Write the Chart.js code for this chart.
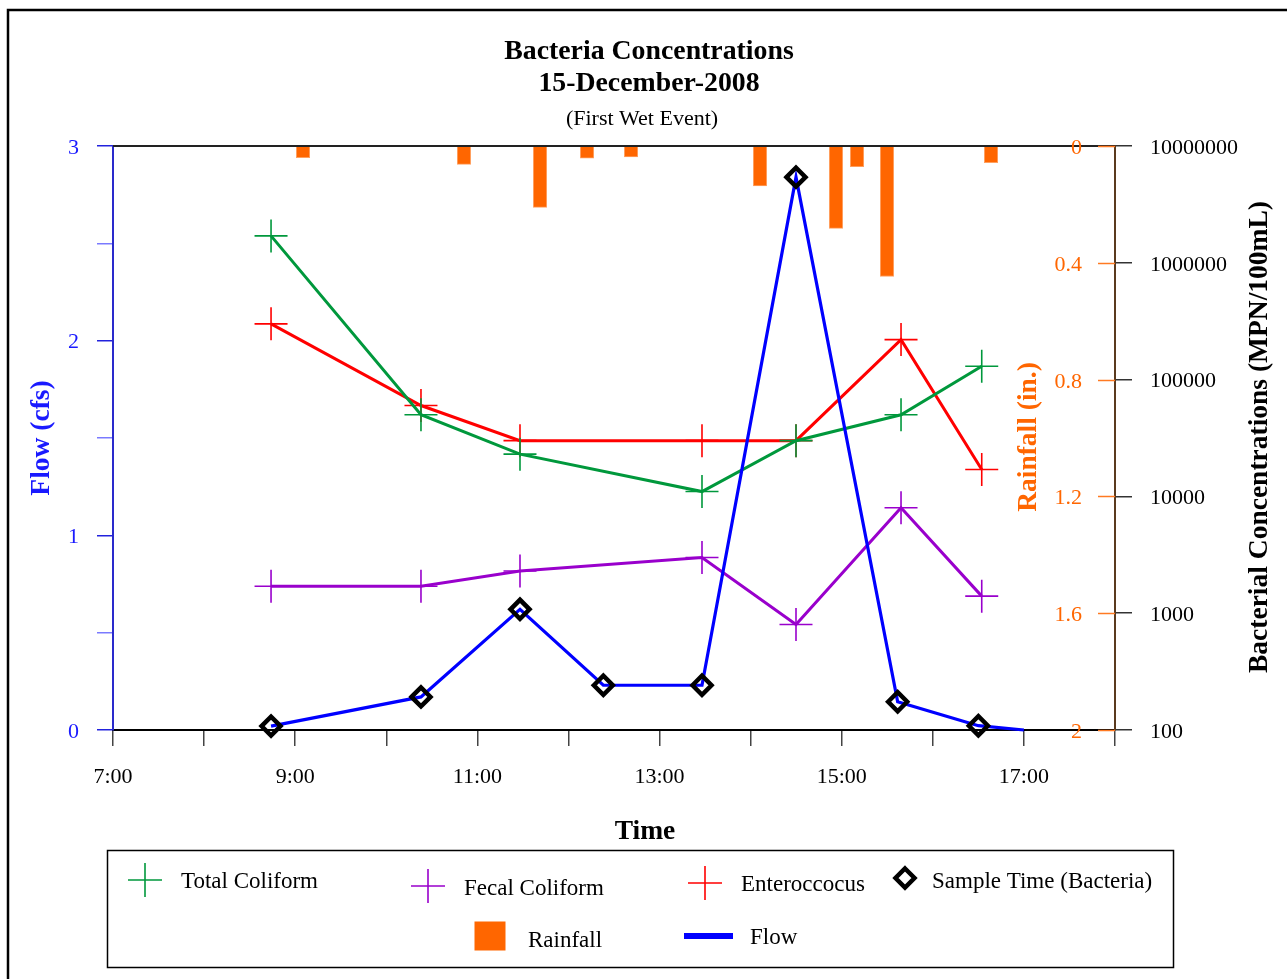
<!DOCTYPE html>
<html>
<head>
<meta charset="utf-8">
<script src="https://cdn.jsdelivr.net/npm/chart.js@4.4.1/dist/chart.umd.min.js"></script>
<style>
html,body{margin:0;padding:0;background:#ffffff;}
canvas{display:block;}
</style>
</head>
<body>
<canvas id="c" width="1287" height="979"></canvas>
<script>
// ---------------- data ----------------
// time in decimal hours
const bacteriaTimes = [8.735, 10.381, 11.468, 13.466, 14.498, 15.651, 16.537];
const totalColiform = [1700000, 50000, 23000, 11000, 30000, 50000, 130000];
const fecalColiform = [1700, 1700, 2300, 3000, 800, 8000, 1400];
const enteroccocus  = [300000, 60000, 30000, 30000, 30000, 220000, 17000];

const flowTimes  = [8.735, 10.381, 11.468, 12.383, 13.466, 14.498, 15.614, 16.50, 17.0];
const flowValues = [0.02, 0.17, 0.62, 0.23, 0.23, 2.84, 0.145, 0.022, 0.0];

const sampleTimes = [8.735, 10.381, 11.468, 12.383, 13.466, 14.498, 15.614, 16.50];
const sampleFlow  = [0.02, 0.17, 0.62, 0.23, 0.23, 2.84, 0.145, 0.022];

const rainTimes  = [9.086, 10.853, 11.688, 12.204, 12.687, 14.103, 14.937, 15.168, 15.497, 16.639];
const rainValues = [0.04, 0.063, 0.21, 0.042, 0.037, 0.137, 0.282, 0.071, 0.447, 0.057];

const xTickHours    = [7, 8, 9, 10, 11, 12, 13, 14, 15, 16, 17, 18];
const flowTicks     = [0, 0.5, 1, 1.5, 2, 2.5, 3];
const rainTicks     = [0, 0.4, 0.8, 1.2, 1.6, 2];
const bacteriaTicks = [100, 1000, 10000, 100000, 1000000, 10000000];

const titleLines = ['Bacteria Concentrations', '15-December-2008'];
const subtitle = '(First Wet Event)';

// ---------------- styles ----------------
const SERIF = '"Liberation Serif", "Times New Roman", serif';
const GREEN = '#00983c', PURPLE = '#9900cc', RED = '#ff0000', BLUE = '#0000ff', ORANGE = '#ff6600';

Chart.defaults.font.family = SERIF;
Chart.defaults.color = '#000';

const pts = (xs, ys) => xs.map((x, i) => ({x: x, y: ys[i]}));

function bactSet(label, color, values, order) {
  return {
    type: 'line', label: label, data: pts(bacteriaTimes, values), yAxisID: 'yBact', xAxisID: 'x',
    borderColor: color, borderWidth: 3, tension: 0, fill: false,
    pointStyle: 'cross', pointRadius: 16.5, pointHoverRadius: 16.5,
    pointBorderWidth: 1.6, pointBorderColor: color, order: order, clip: false
  };
}

const decor = {
  id: 'decor',
  afterDraw(chart) {
    const ctx = chart.ctx;
    const ca = chart.chartArea;
    ctx.save();
    // top border of plot
    ctx.strokeStyle = '#222'; ctx.lineWidth = 2;
    ctx.beginPath(); ctx.moveTo(ca.left, ca.top); ctx.lineTo(ca.right, ca.top); ctx.stroke();

    // rainfall axis (inside, left of the right axis line)
    const rs = chart.scales.yRain;
    ctx.strokeStyle = '#ff7a22'; ctx.lineWidth = 1.5;
    ctx.fillStyle = ORANGE; ctx.font = '22px ' + SERIF;
    ctx.textAlign = 'right'; ctx.textBaseline = 'middle';
    rainTicks.forEach(v => {
      const y = Math.round(rs.getPixelForValue(v)) + 0.5;
      ctx.beginPath(); ctx.moveTo(ca.right - 17, y); ctx.lineTo(ca.right, y); ctx.stroke();
      ctx.fillText(String(v), ca.right - 33, y + 2);
    });
    // rainfall title
    ctx.save();
    ctx.translate(1029, 437); ctx.rotate(-Math.PI / 2);
    ctx.font = 'bold 27.5px ' + SERIF; ctx.textAlign = 'center'; ctx.fillStyle = ORANGE;
    ctx.fillText('Rainfall (in.)', 0, 0);
    ctx.restore();
    // bacteria title
    ctx.save();
    ctx.translate(1260, 437); ctx.rotate(-Math.PI / 2);
    ctx.font = 'bold 27.5px ' + SERIF; ctx.textAlign = 'center'; ctx.fillStyle = '#000';
    ctx.fillText('Bacterial Concentrations (MPN/100mL)', 0, 0);
    ctx.restore();

    // x title
    ctx.fillStyle = '#000'; ctx.textAlign = 'center'; ctx.textBaseline = 'middle';
    ctx.font = 'bold 27.5px ' + SERIF;
    ctx.fillText('Time', 645, 832);

    // main title
    ctx.font = 'bold 27.8px ' + SERIF;
    ctx.fillText(titleLines[0], 649, 52);
    ctx.fillText(titleLines[1], 649, 84);
    ctx.font = '22px ' + SERIF;
    ctx.fillText(subtitle, 642, 119);

    // legend
    const ds = chart.data.datasets;
    const byLabel = l => ds.find(d => d.label === l);
    ctx.strokeStyle = '#000'; ctx.lineWidth = 1.5;
    ctx.strokeRect(107.5, 850.5, 1066, 117);
    const items = [
      {l: 'Total Coliform', m: 'cross', mx: 145, my: 880, tx: 181, ty: 882},
      {l: 'Fecal Coliform', m: 'cross', mx: 428, my: 886, tx: 464, ty: 889},
      {l: 'Enteroccocus', m: 'cross', mx: 705, my: 883, tx: 741, ty: 885},
      {l: 'Sample Time (Bacteria)', m: 'diamond', mx: 905, my: 878, tx: 932, ty: 882},
      {l: 'Rainfall', m: 'rect', mx: 490, my: 936, tx: 528, ty: 941},
      {l: 'Flow', m: 'line', mx: 708, my: 936, tx: 750, ty: 938}
    ];
    items.forEach(it => {
      const d = byLabel(it.l);
      const col = it.m === 'rect' ? d.backgroundColor : (it.m === 'diamond' ? '#000' : d.borderColor);
      ctx.strokeStyle = col; ctx.fillStyle = col;
      if (it.m === 'cross') {
        ctx.lineWidth = 1.6;
        ctx.beginPath();
        ctx.moveTo(it.mx - 17, it.my); ctx.lineTo(it.mx + 17, it.my);
        ctx.moveTo(it.mx, it.my - 17); ctx.lineTo(it.mx, it.my + 17);
        ctx.stroke();
      } else if (it.m === 'diamond') {
        ctx.lineWidth = 4.5;
        ctx.beginPath();
        ctx.moveTo(it.mx, it.my - 9.5); ctx.lineTo(it.mx + 9.5, it.my);
        ctx.lineTo(it.mx, it.my + 9.5); ctx.lineTo(it.mx - 9.5, it.my);
        ctx.closePath(); ctx.stroke();
      } else if (it.m === 'rect') {
        ctx.fillRect(it.mx - 15.5, it.my - 14.5, 31, 29);
      } else {
        ctx.lineWidth = 6;
        ctx.beginPath(); ctx.moveTo(it.mx - 24, it.my); ctx.lineTo(it.mx + 25, it.my); ctx.stroke();
      }
      ctx.fillStyle = '#000'; ctx.font = '23px ' + SERIF;
      ctx.textAlign = 'left'; ctx.textBaseline = 'middle';
      ctx.fillText(it.l, it.tx, it.ty);
    });

    // outer frame
    ctx.strokeStyle = '#000'; ctx.lineWidth = 2.5;
    ctx.strokeRect(8, 10, 1400, 1100);
    ctx.restore();
  }
};

new Chart(document.getElementById('c'), {
  type: 'scatter',
  data: {
    datasets: [
      {
        type: 'bar', label: 'Rainfall', data: pts(rainTimes, rainValues), xAxisID: 'x', yAxisID: 'yRain',
        backgroundColor: ORANGE, borderColor: '#ffa060', borderWidth: 1, barThickness: 13.4,
        order: 10
      },
      bactSet('Enteroccocus', RED, enteroccocus, 4),
      bactSet('Fecal Coliform', PURPLE, fecalColiform, 3),
      bactSet('Total Coliform', GREEN, totalColiform, 2),
      {
        type: 'line', label: 'Flow', data: pts(flowTimes, flowValues), xAxisID: 'x', yAxisID: 'yFlow',
        borderColor: BLUE, backgroundColor: BLUE, borderWidth: 3.2, tension: 0, fill: false,
        pointRadius: 0, pointHoverRadius: 0, order: 1, clip: false
      },
      {
        type: 'scatter', label: 'Sample Time (Bacteria)', data: pts(sampleTimes, sampleFlow),
        xAxisID: 'x', yAxisID: 'yFlow', showLine: false,
        pointStyle: 'rectRot', pointRadius: 9.5, pointHoverRadius: 9.5, pointBorderWidth: 4.5,
        borderColor: '#000', pointBorderColor: '#000', backgroundColor: 'rgba(0,0,0,0)',
        pointBackgroundColor: 'rgba(0,0,0,0)', order: 0, clip: false
      }
    ]
  },
  options: {
    responsive: false,
    animation: false,
    events: [],
    layout: {padding: {top: 146, left: 0, right: 0, bottom: 0}},
    plugins: {legend: {display: false}, tooltip: {enabled: false}, title: {display: false}},
    scales: {
      x: {
        type: 'linear', position: 'bottom', min: 7, max: 18, offset: false,
        afterBuildTicks: s => { s.ticks = xTickHours.map(v => ({value: v})); },
        ticks: {
          callback: v => (v % 2 === 1 && v < 18) ? v + ':00' : '',
          color: '#000', font: {size: 22}, padding: 18, maxRotation: 0, autoSkip: false
        },
        grid: {drawOnChartArea: false, offset: false, tickLength: 16, color: '#444', lineWidth: 1.5},
        border: {color: '#000', width: 2},
        afterFit: s => { s.height = 249; s.paddingLeft = 0; s.paddingRight = 0; }
      },
      yFlow: {
        type: 'linear', position: 'left', min: 0, max: 3,
        afterBuildTicks: s => { s.ticks = flowTicks.map(v => ({value: v})); },
        ticks: {
          callback: v => Number.isInteger(v) ? String(v) : '',
          color: '#1a1aff', font: {size: 22}, padding: 18, autoSkip: false, labelOffset: 2
        },
        grid: {
          drawOnChartArea: false, tickLength: 16, lineWidth: 1.5,
          color: c => (c.tick && Number.isInteger(c.tick.value)) ? '#2222dd' : '#7a7aff'
        },
        border: {color: '#2a2acc', width: 2},
        title: {display: true, text: 'Flow (cfs)', color: '#1a1aff', font: {size: 27.5, weight: 'bold'}, padding: {top: 25, bottom: 0}},
        afterFit: s => { s.width = 113; s.paddingTop = 0; s.paddingBottom = 0; }
      },
      yRain: {
        type: 'linear', position: 'right', reverse: true, min: 0, max: 2, display: false
      },
      yBact: {
        type: 'logarithmic', position: 'right', min: 100, max: 10000000,
        afterBuildTicks: s => { s.ticks = bacteriaTicks.map(v => ({value: v})); },
        ticks: {callback: v => String(Math.round(v)), color: '#000', font: {size: 22}, padding: 18, autoSkip: false, labelOffset: 2},
        grid: {drawOnChartArea: false, tickLength: 17, color: '#333', lineWidth: 1.5},
        border: {color: '#5a3a1e', width: 2},
        afterFit: s => { s.width = 172; s.paddingTop = 0; s.paddingBottom = 0; }
      }
    }
  },
  plugins: [decor]
});
</script>
</body>
</html>
